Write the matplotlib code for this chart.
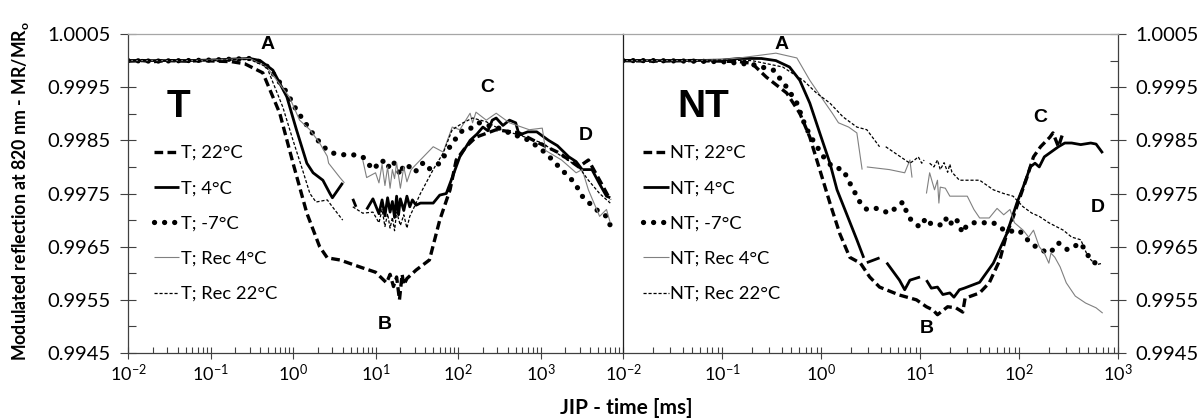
import numpy as np
import matplotlib
matplotlib.use("Agg")
import matplotlib.pyplot as plt
from matplotlib.ticker import FixedLocator, LogLocator, NullFormatter, FormatStrFormatter

nan = np.nan

# ---- left panel (T) : (time ms, MR/MRo) ----
t_22 = [(0.01, 0.99999), (0.015, 1.0), (0.02, 0.99998), (0.03, 1.0), (0.05, 0.99999), (0.08, 1.0),
        (0.12, 0.99999), (0.18, 0.99998), (0.26, 0.99994), (0.43, 0.99977), (0.69, 0.99901),
        (1.0, 0.99807), (1.47, 0.99713), (2.1, 0.9965), (2.6, 0.99629), (3.7, 0.99625), (7, 0.9961),
        (10, 0.99602), (13.6, 0.99582), (15, 0.99598), (16.5, 0.99575), (18, 0.99593), (19.5, 0.9955),
        (21, 0.99598), (22, 0.99578), (24, 0.9959), (31, 0.99606), (45, 0.99625), (60, 0.997),
        (80, 0.99757), (95, 0.99813), (125, 0.99838), (165, 0.99856), (290, 0.9987), (550, 0.99864),
        (950, 0.99845), (1700, 0.99826), (2900, 0.998), (3800, 0.99813), (5200, 0.99775), (7000, 0.99738)]

t_4 = [(0.01, 1.0), (0.02, 1.0), (0.05, 1.0), (0.1, 1.00001), (0.2, 1.00003), (0.3, 1.00004),
       (0.4, 1.0), (0.57, 0.99982), (0.84, 0.99932), (1.1, 0.9987), (1.47, 0.99807), (1.75, 0.99789),
       (2.3, 0.99775), (2.8, 0.9975), (3.0, 0.99742), (4.0, 0.9977), (nan, nan), (5.3, 0.9974),
       (5.8, 0.99725), (nan, nan), (7.8, 0.9972), (9.3, 0.9974), (11, 0.99712), (12, 0.99738),
       (13, 0.99708), (14, 0.99742), (15, 0.99715), (16, 0.99735), (17, 0.99705), (18, 0.99745),
       (19, 0.9971), (20, 0.9974), (22, 0.99718), (24, 0.99745), (26, 0.99725), (28, 0.99738),
       (31, 0.99728), (35, 0.99732), (50, 0.99732), (60, 0.99747), (72, 0.9975), (85, 0.9978),
       (105, 0.99819), (140, 0.9985), (170, 0.99862), (200, 0.99875), (230, 0.99868), (260, 0.99888),
       (290, 0.99892), (350, 0.99878), (420, 0.99888), (500, 0.99883), (550, 0.9986), (700, 0.99866),
       (900, 0.99866), (1250, 0.9985), (1600, 0.9984), (2200, 0.99819), (2700, 0.9981), (3200, 0.99795),
       (4200, 0.99795), (5200, 0.99768), (6300, 0.99745), (7000, 0.99742)]

t_m7 = [(0.01, 1.0), (0.02, 0.99999), (0.05, 1.0), (0.1, 1.00001), (0.2, 1.00003), (0.3, 1.00004),
        (0.45, 0.99995), (0.6, 0.99972), (0.84, 0.9994), (1.1, 0.99907), (1.6, 0.9987), (2.3, 0.99838),
        (3.05, 0.99826), (4, 0.99823), (5.3, 0.99823), (7, 0.99819), (9.3, 0.99795), (12, 0.99813),
        (14, 0.99798), (16, 0.99812), (18, 0.998), (20, 0.99785), (22, 0.99805), (26, 0.998),
        (30, 0.9979), (37, 0.99807), (43, 0.99795), (60, 0.99807), (85, 0.99845), (115, 0.9987),
        (140, 0.99872), (180, 0.99883), (230, 0.99878), (290, 0.99875), (420, 0.99864), (730, 0.9985),
        (1160, 0.99826), (1800, 0.99795), (2600, 0.9977), (3200, 0.99745), (4700, 0.9972),
        (6300, 0.99707), (7000, 0.9969)]

t_rec4 = [(0.01, 1.0), (0.05, 1.0), (0.1, 1.00001), (0.2, 1.00003), (0.3, 1.00004), (0.48, 0.99988),
          (0.9, 0.99932), (1.2, 0.99888), (1.6, 0.9987), (2.1, 0.99845), (2.6, 0.9982), (2.7, 0.99807),
          (3.7, 0.9978), (4.2, 0.9977), (nan, nan), (7, 0.99813), (7.8, 0.9978), (10, 0.99789),
          (11, 0.9977), (12, 0.99805), (13, 0.99765), (14, 0.998), (15, 0.9976), (16, 0.99795),
          (17, 0.99778), (18, 0.99808), (20, 0.9976), (22, 0.998), (24, 0.99772), (27, 0.99795),
          (32, 0.99807), (50, 0.99838), (66, 0.99828), (85, 0.99875), (105, 0.9987), (140, 0.99901),
          (150, 0.99883), (165, 0.99903), (220, 0.99888), (290, 0.99901), (420, 0.99883), (730, 0.9987),
          (1050, 0.99873), (1150, 0.99831), (1800, 0.99813), (2700, 0.99789), (3200, 0.99795),
          (3800, 0.99757), (5200, 0.99707), (6300, 0.9972), (7000, 0.99695)]

t_rec22 = [(0.01, 1.0), (0.05, 1.0), (0.1, 1.0), (0.2, 1.00002), (0.3, 1.00002), (0.48, 0.99988),
           (0.75, 0.99913), (1.0, 0.9985), (1.3, 0.99795), (1.6, 0.9975), (1.9, 0.99734), (2.6, 0.99738),
           (3.0, 0.99725), (4.0, 0.997), (nan, nan), (5.3, 0.99725), (7, 0.99713), (9.3, 0.99715),
           (11, 0.99695), (12, 0.9972), (13, 0.99688), (14, 0.99712), (15, 0.99685), (16, 0.99705),
           (17, 0.9968), (18, 0.99715), (20, 0.9969), (22, 0.9971), (24, 0.99685), (26, 0.99707),
           (31, 0.99732), (35, 0.9975), (50, 0.99795), (66, 0.99826), (85, 0.9987), (115, 0.99883),
           (150, 0.99892), (220, 0.99885), (330, 0.9987), (550, 0.9986), (1050, 0.99845), (1800, 0.9982),
           (2900, 0.998), (3800, 0.99775), (5200, 0.9975), (7000, 0.99732)]

# ---- right panel (NT) ----
nt_22 = [(0.01, 1.0), (0.02, 0.99999), (0.05, 1.0), (0.1, 0.99999), (0.15, 0.99998), (0.2, 0.99995),
         (0.28, 0.99969), (0.45, 0.99939), (0.61, 0.99901), (0.77, 0.99856), (0.97, 0.99795),
         (1.23, 0.99732), (1.55, 0.99674), (1.95, 0.9963), (2.5, 0.99619), (3.1, 0.99593), (3.9, 0.99574),
         (6.2, 0.99559), (9.2, 0.9955), (11.6, 0.99537), (13.5, 0.99531), (15, 0.99522), (19, 0.99537),
         (23, 0.99535), (27, 0.99527), (28.5, 0.99553), (40, 0.99563), (50, 0.99582), (64, 0.99625),
         (75, 0.99674), (87, 0.99705), (100, 0.99738), (120, 0.9978), (140, 0.99819), (165, 0.99838),
         (205, 0.99856), (220, 0.99864), (250, 0.99838), (280, 0.99866)]

nt_4 = [(0.01, 1.0), (0.02, 1.0), (0.05, 1.0), (0.1, 1.00001), (0.15, 1.00004), (0.25, 1.00004),
        (0.35, 1.0), (0.48, 0.99988), (0.61, 0.99963), (0.77, 0.9992), (0.97, 0.99864), (1.23, 0.99807),
        (1.45, 0.99757), (1.8, 0.99713), (2.3, 0.99663), (2.7, 0.99629), (nan, nan), (2.9, 0.9962),
        (3.9, 0.99629), (nan, nan), (4.6, 0.9962), (6.2, 0.99587), (7, 0.99569), (7.9, 0.99587),
        (10, 0.99593), (nan, nan), (11.6, 0.99587), (13, 0.99572), (15, 0.99574), (17, 0.9956),
        (20, 0.99563), (22, 0.99555), (25, 0.99569), (28, 0.99572), (40, 0.99583), (55, 0.99619),
        (75, 0.99674), (95, 0.99732), (110, 0.99762), (130, 0.998), (145, 0.99807), (160, 0.998),
        (180, 0.99819), (250, 0.99838), (290, 0.99845), (340, 0.99845), (420, 0.99842), (530, 0.99845),
        (600, 0.99843), (700, 0.99826)]

nt_m7 = [(0.01, 1.0), (0.02, 1.0), (0.05, 0.99999), (0.1, 0.99998), (0.15, 0.99995), (0.21, 0.99992),
         (0.33, 0.99982), (0.45, 0.9995), (0.57, 0.9992), (0.7, 0.99875), (0.83, 0.9985), (1.05, 0.9982),
         (1.3, 0.998), (1.67, 0.99795), (1.95, 0.9977), (2.5, 0.99732), (2.9, 0.9972), (3.6, 0.99722),
         (4.9, 0.99713), (6.7, 0.99734), (7.6, 0.99707), (8.6, 0.99695), (10, 0.99687), (11.5, 0.99704),
         (13, 0.99692), (16, 0.99691), (18, 0.99704), (20, 0.9969), (22, 0.99704), (25, 0.99695),
         (26.5, 0.99676), (30, 0.99691), (35, 0.99695), (55, 0.99695), (75, 0.99678), (100, 0.99681),
         (130, 0.99657), (165, 0.99644), (205, 0.99638), (250, 0.99657), (310, 0.99644), (420, 0.99657),
         (530, 0.99625), (700, 0.9961)]

nt_rec4 = [(0.01, 1.0), (0.05, 1.0), (0.1, 1.00002), (0.15, 1.00005), (0.24, 1.0001), (0.35, 1.00014),
           (0.57, 1.00005), (0.77, 0.99963), (1.05, 0.99926), (1.3, 0.99901), (1.5, 0.99883),
           (1.9, 0.99875), (2.3, 0.99864), (2.6, 0.99795), (nan, nan), (2.9, 0.998), (4.9, 0.99795),
           (7, 0.99789), (7.9, 0.99813), (8.3, 0.9978), (nan, nan), (11.6, 0.9975), (12.5, 0.99789),
           (14, 0.99757), (15, 0.99775), (15.5, 0.99732), (16, 0.99762), (18, 0.9976), (20, 0.99745),
           (30, 0.99745), (35, 0.9972), (40, 0.99704), (50, 0.99704), (60, 0.99722), (70, 0.9971),
           (81, 0.9972), (90, 0.99695), (110, 0.99681), (125, 0.99668), (140, 0.99681), (160, 0.9965),
           (180, 0.99638), (200, 0.99619), (210, 0.99638), (230, 0.9963), (260, 0.99612), (300, 0.99582),
           (370, 0.99557), (470, 0.99544), (600, 0.99535), (700, 0.99525)]

nt_rec22 = [(0.01, 1.0), (0.05, 1.0), (0.1, 1.00001), (0.2, 1.0), (0.41, 0.99988), (0.66, 0.99963),
            (0.9, 0.99939), (1.23, 0.9992), (1.67, 0.99894), (2.3, 0.99875), (2.9, 0.9987),
            (3.9, 0.99838), (nan, nan), (4.5, 0.99838), (7.9, 0.99807), (8.8, 0.99813), (9.6, 0.99819),
            (10.4, 0.99807), (11, 0.99813), (nan, nan), (12.5, 0.99807), (13.8, 0.998), (15, 0.99813),
            (16, 0.99795), (17.5, 0.99808), (19, 0.9979), (20, 0.99805), (21, 0.9979), (25, 0.99775),
            (30, 0.99775), (40, 0.99775), (55, 0.99757), (70, 0.9975), (87, 0.99745), (110, 0.99725),
            (135, 0.99713), (160, 0.99707), (200, 0.99695), (280, 0.99681), (340, 0.99668),
            (420, 0.99663), (500, 0.9963), (600, 0.99616), (700, 0.99619)]

left_series = [("T; 22°C", t_22), ("T; 4°C", t_4), ("T; -7°C", t_m7),
               ("T; Rec 4°C", t_rec4), ("T; Rec 22°C", t_rec22)]
right_series = [("NT; 22°C", nt_22), ("NT; 4°C", nt_4), ("NT; -7°C", nt_m7),
                ("NT; Rec 4°C", nt_rec4), ("NT; Rec 22°C", nt_rec22)]

styles = [
    dict(color="black", lw=2.4, ls=(0, (2.6, 1.3))),
    dict(color="black", lw=2.0, ls="-"),
    dict(color="black", lw=3.8, ls=(0, (0.01, 1.9)), dash_capstyle="round"),
    dict(color="#808080", lw=0.8, ls="-"),
    dict(color="black", lw=0.9, ls=(0, (2.5, 1.5))),
]

yticks = [0.9945, 0.9955, 0.9965, 0.9975, 0.9985, 0.9995, 1.0005]
yminor = [0.9950, 0.9960, 0.9970, 0.9980, 0.9990, 1.0000]

FONT = "Lato"
plt.rcParams["font.family"] = [FONT, "DejaVu Sans"]
plt.rcParams["mathtext.fontset"] = "custom"
plt.rcParams["mathtext.rm"] = FONT
plt.rcParams["mathtext.bf"] = FONT + ":bold"

fig = plt.figure(figsize=(12, 4.19), dpi=100)
axL = fig.add_axes([0.1067, 0.1575, 0.4125, 0.7613])
axR = fig.add_axes([0.5192, 0.1575, 0.4125, 0.7613])

for ax, series, xmax in [(axL, left_series, 1e4), (axR, right_series, 1e3)]:
    for (label, pts), st in zip(series, styles):
        arr = np.array(pts).T
        ax.plot(arr[0], arr[1], label=label, solid_capstyle="butt", **st)
    ax.set_xscale("log")
    ax.set_xlim(0.01, xmax)
    ax.set_ylim(0.9945, 1.0005)
    ax.xaxis.set_major_locator(FixedLocator([1e-2, 1e-1, 1e0, 1e1, 1e2, 1e3]))
    ax.xaxis.set_minor_locator(LogLocator(base=10, subs=np.arange(2, 10), numticks=20))
    ax.xaxis.set_minor_formatter(NullFormatter())
    ax.yaxis.set_major_locator(FixedLocator(yticks))
    ax.yaxis.set_minor_locator(FixedLocator(yminor))
    ax.yaxis.set_major_formatter(FormatStrFormatter("%.4f"))
    ax.tick_params(axis="x", which="major", direction="inout", length=8, width=0.8,
                   labelsize=13, pad=3, colors="#404040", labelcolor="black")
    ax.tick_params(axis="x", which="minor", direction="in", length=4, width=0.8, colors="#404040")
    ax.tick_params(axis="y", which="major", direction="inout", length=11, width=0.8,
                   labelsize=14.5, pad=7, colors="#404040", labelcolor="black")
    ax.tick_params(axis="y", which="minor", direction="in", length=6, width=0.8, colors="#404040")
    ax.spines["top"].set_color("#a6a6a6")
    ax.spines["bottom"].set_color("#404040")
    for sp in ax.spines.values():
        sp.set_linewidth(0.9)
    ax.set_facecolor("none")

axL.spines["right"].set_visible(False)
axL.spines["left"].set_color("#404040")
axR.spines["left"].set_color("#202020")
axR.spines["right"].set_color("#404040")
axR.yaxis.tick_right()
axR.tick_params(axis="y", which="both", left=False)

leg_kw = dict(frameon=False, fontsize=13.2, handlelength=1.4, handletextpad=0.1,
              labelspacing=1.05, borderaxespad=0, borderpad=0, loc="upper left")
axL.legend(bbox_to_anchor=(0.052, 0.652), **leg_kw)
axR.legend(bbox_to_anchor=(0.040, 0.652), **leg_kw)

lab = dict(fontsize=14, fontweight="bold", family="Liberation Sans", ha="center", va="center")
axL.text(0.281, 0.966, "A", transform=axL.transAxes, **lab)
axL.text(0.519, 0.088, "B", transform=axL.transAxes, **lab)
axL.text(0.725, 0.831, "C", transform=axL.transAxes, **lab)
axL.text(0.925, 0.683, "D", transform=axL.transAxes, **lab)
axR.text(0.321, 0.966, "A", transform=axR.transAxes, **lab)
axR.text(0.614, 0.078, "B", transform=axR.transAxes, **lab)
axR.text(0.842, 0.737, "C", transform=axR.transAxes, **lab)
axR.text(0.960, 0.455, "D", transform=axR.transAxes, **lab)

big = dict(fontsize=28, fontweight="bold", family="Liberation Sans", ha="center", va="center")
axL.text(0.101, 0.772, "T", transform=axL.transAxes, **big)
axR.text(0.162, 0.772, "NT", transform=axR.transAxes, **big)

fig.text(0.017, 0.545, "Modulated reflection at 820 nm - MR/MR$_\\mathbf{o}$", rotation=90,
         ha="center", va="center", fontsize=12.8, fontweight="bold")
fig.text(0.522, 0.027, "JIP - time [ms]", ha="center", va="center", fontsize=15, fontweight="bold")

fig.savefig("out.png", dpi=100)
